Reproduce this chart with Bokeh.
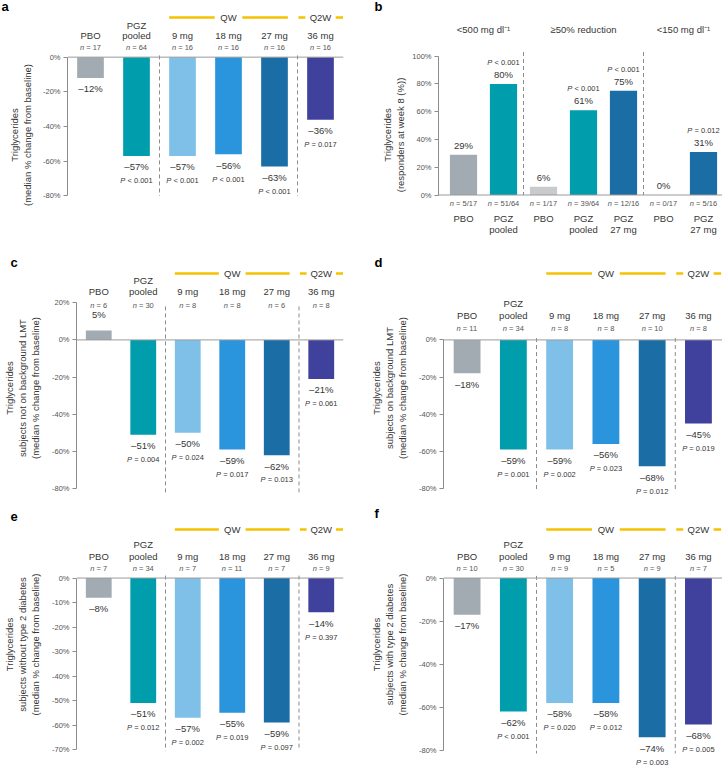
from bokeh.plotting import figure
from bokeh.models import Range1d, FixedTicker, Span, ColumnDataSource, CustomJSTickFormatter
from bokeh.layouts import column, row
from bokeh.core.properties import value
from bokeh.embed import file_html
from bokeh.resources import INLINE

FONT = "Liberation Sans"
DARK = "#363636"
GREY_TXT = "#555555"
YELLOW = "#F6C200"

# ---------------- data ----------------
dose_line1 = ["", "PGZ", "", "", "", ""]
dose_line2 = ["PBO", "pooled", "9 mg", "18 mg", "27 mg", "36 mg"]
dose_colors = ["#A2ABB2", "#009DAC", "#7FC0E9", "#2A95DC", "#1B6EA5", "#3F419D"]
qw_bars = [2, 4]          # first / last bar of the QW bracket
q2w_bars = [5, 5]
separators_after = [1, 4]

a_values = [-12, -57, -57, -56, -63, -36]
a_n = ["17", "64", "16", "16", "16", "16"]
a_p = ["", "P < 0.001", "P < 0.001", "P < 0.001", "P < 0.001", "P = 0.017"]
a_ticks = [0, -20, -40, -60, -80]

c_values = [5, -51, -50, -59, -62, -21]
c_n = ["6", "30", "8", "8", "6", "8"]
c_p = ["", "P = 0.004", "P = 0.024", "P = 0.017", "P = 0.013", "P = 0.061"]
c_ticks = [20, 0, -20, -40, -60, -80]

d_values = [-18, -59, -59, -56, -68, -45]
d_n = ["11", "34", "8", "8", "10", "8"]
d_p = ["", "P = 0.001", "P = 0.002", "P = 0.023", "P = 0.012", "P = 0.019"]
d_ticks = [0, -20, -40, -60, -80]

e_values = [-8, -51, -57, -55, -59, -14]
e_n = ["7", "34", "7", "11", "7", "9"]
e_p = ["", "P = 0.012", "P = 0.002", "P = 0.019", "P = 0.097", "P = 0.397"]
e_ticks = [0, -10, -20, -30, -40, -50, -60, -70]

f_values = [-17, -62, -58, -58, -74, -68]
f_n = ["10", "30", "9", "5", "9", "7"]
f_p = ["", "P < 0.001", "P = 0.020", "P = 0.012", "P = 0.003", "P = 0.005"]
f_ticks = [0, -20, -40, -60, -80]

b_groups = ["<500 mg dl\u207b\u00b9", "\u226550% reduction", "<150 mg dl\u207b\u00b9"]
b_group_bars = [[0, 1], [2, 3, 4], [5, 6]]
b_line1 = ["PBO", "PGZ", "PBO", "PGZ", "PGZ", "PBO", "PGZ"]
b_line2 = ["", "pooled", "", "pooled", "27 mg", "", "27 mg"]
b_values = [29, 80, 6, 61, 75, 0, 31]
b_n = ["5/17", "51/64", "1/17", "39/64", "12/16", "0/17", "5/16"]
b_p = ["", "P < 0.001", "", "P < 0.001", "P < 0.001", "", "P = 0.012"]
b_colors = ["#A2ABB2", "#009DAC", "#C8CACC", "#009DAC", "#1B6EA5", "#A2ABB2", "#1B6EA5"]
b_ticks = [0, 20, 40, 60, 80, 100]

TITLE_MED = "(median % change from baseline)"

# ---------------- helpers ----------------
CW = {" ": 0.278, "=": 0.584, "<": 0.584, "/": 0.278, ".": 0.278, "n": 0.556, "P": 0.667}
TITLE_H = 15.0   # approx. height of the 13px letter title before standoff


def tw(s, size):
    return sum(CW.get(ch, 0.556) for ch in s) * size


def txt(p, x, y, t, size, color=DARK, align="center", style="normal"):
    src = ColumnDataSource(dict(x=x, y=y, t=t))
    p.text(x="x", y="y", text="t", source=src, text_align=align,
           text_baseline="middle", text_font=value(FONT), text_font_size=value(f"{size}px"),
           text_color=color, text_font_style=style)


def italic_prefixed(p, x, y, prefix, rests, size, color):
    offs_pre, offs_rest = [], []
    for r in rests:
        total = tw(prefix + " " + r, size)
        split = -total / 2 + tw(prefix, size)
        offs_pre.append(split)
        offs_rest.append(split + tw(" ", size))
    src = ColumnDataSource(dict(x=x, y=y, pre=[prefix] * len(x), rest=rests, o1=offs_pre, o2=offs_rest))
    common = dict(source=src, text_baseline="middle", text_font=value(FONT),
                  text_font_size=value(f"{size}px"), text_color=color)
    p.text(x="x", y="y", text="pre", x_offset="o1", text_align="right", text_font_style="italic", **common)
    p.text(x="x", y="y", text="rest", x_offset="o2", text_align="left", **common)


def p_labels(p, xs, ys, plist, size=7.5):
    sel = [i for i, s in enumerate(plist) if s]
    italic_prefixed(p, [xs[i] for i in sel], [ys[i] for i in sel], "P",
                    [plist[i][2:] for i in sel], size, DARK)


def base_fig(W, H, mbl, mbr, zero_px, ppu, xr, ticks, title, title_standoff, letter, letter_x, S):
    # S = height of the band used by the panel letter above the frame
    y0 = -(H - zero_px) / ppu
    y1 = (zero_px - S) / ppu
    p = figure(width=W, height=H, x_range=Range1d(*xr), y_range=Range1d(y0, y1),
               x_axis_location=None, toolbar_location=None, output_backend="svg",
               title=letter, title_location="above",
               min_border_left=mbl, min_border_right=mbr, min_border_top=0, min_border_bottom=0,
               outline_line_color=None, background_fill_color="white", border_fill_color="white")
    p.title.align = "left"
    p.title.offset = letter_x - mbl
    p.title.text_font = FONT
    p.title.text_font_size = "13px"
    p.title.text_font_style = "bold"
    p.title.text_color = "black"
    p.title.vertical_align = "top"
    p.title.standoff = S - TITLE_H
    p.grid.visible = False
    ax = p.yaxis[0]
    ax.ticker = FixedTicker(ticks=ticks)
    ax.bounds = (min(ticks), max(ticks))
    ax.formatter = CustomJSTickFormatter(code="return tick + '%'")
    ax.major_tick_out = 4
    ax.major_tick_in = 0
    ax.minor_tick_out = 0
    ax.minor_tick_in = 0
    ax.axis_line_color = "#8c8c8c"
    ax.major_tick_line_color = "#8c8c8c"
    ax.major_label_text_font = FONT
    ax.major_label_text_font_size = "7.5px"
    ax.major_label_text_color = GREY_TXT
    ax.major_label_standoff = 3
    ax.axis_label = title
    ax.axis_label_text_font = FONT
    ax.axis_label_text_font_size = "9.5px"
    ax.axis_label_text_font_style = "normal"
    ax.axis_label_text_color = DARK
    ax.axis_label_standoff = title_standoff
    p.add_layout(Span(location=0, dimension="width", line_color="#9a9a9a", line_width=1))
    return p


def dose_panel(letter, values, ns, ps, ticks, title, title_standoff, W, H, mbl, mbr, xr, zero_px, ppu, hdr,
               letter_x, S, sep_top, sep_bot):
    p = base_fig(W, H, mbl, mbr, zero_px, ppu, xr, ticks, title, title_standoff, letter, letter_x, S)
    xs = list(range(len(values)))
    bw = 0.58
    p.vbar(x=xs, top=values, bottom=0, width=bw, fill_color=dose_colors, line_color=None)
    sx = [i + 0.5 for i in separators_after]
    p.segment(x0=sx, x1=sx, y0=[sep_top] * len(sx), y1=[sep_bot] * len(sx),
              line_color="#8c8c8c", line_width=1, line_dash="4 3")
    qw_px, l1_px, l2_px, n_px = hdr
    u = lambda px: px / ppu
    txt(p, xs, [u(l1_px)] * 6, dose_line1, 9.5)
    txt(p, xs, [u(l2_px)] * 6, dose_line2, 9.5)
    italic_prefixed(p, xs, [u(n_px)] * 6, "n", ["= " + n for n in ns], 7.5, GREY_TXT)
    # QW bracket
    qa, qb = qw_bars[0] - bw / 2, qw_bars[1] + bw / 2
    qc = (qw_bars[0] + qw_bars[1]) / 2
    gap = 0.3
    yq = u(qw_px)
    p.segment(x0=[qa, qc + gap], x1=[qc - gap, qb], y0=[yq, yq], y1=[yq, yq], line_color=YELLOW, line_width=2.5)
    txt(p, [qc], [yq], ["QW"], 9.5)
    # Q2W
    ra, rb = q2w_bars[0] - 0.5, q2w_bars[1] + 0.5
    rc = (ra + rb) / 2
    p.segment(x0=[ra + 0.02, rb - 0.17], x1=[ra + 0.17, rb - 0.01], y0=[yq, yq], y1=[yq, yq],
              line_color=YELLOW, line_width=2.5)
    txt(p, [rc], [yq], ["Q2W"], 9.5)
    # value labels
    vy = [v + u(16) if v >= 0 else v - u(11) for v in values]
    vt = [f"{v}%" if v >= 0 else f"\u2013{abs(v)}%" for v in values]
    txt(p, xs, vy, vt, 9.5)
    py = [v - u(25) for v in values]
    p_labels(p, xs, py, ps)
    return p


# ---------------- geometry ----------------
LW, RW = 360, 362
H1, H2, H3 = 255, 250, 261
XL = (-0.5, 5.5)
XR = (-0.51, 5.52)
T2 = "Triglycerides\n"

pa = dose_panel("a", a_values, a_n, a_p, a_ticks, T2 + TITLE_MED, 7,
                LW, H1, 67, 17, XL, 55, 1.75, (40, 32, 22, 10), 1, 12, 1, -80)
pc = dose_panel("c", c_values, c_n, c_p, c_ticks,
                T2 + "subjects not on background LMT\n" + TITLE_MED, 8,
                LW, H2, 67, 17, XL, 83, 1.875, (67, 60, 49, 35), 1, 13, 18, -82)
pd_ = dose_panel("d", d_values, d_n, d_p, d_ticks,
                 T2 + "subjects on background LMT\n" + TITLE_MED, 8,
                 RW, H2, 83, 0, XR, 83, 1.875, (67, 37, 25, 12), 14, 13, 1, -81)
pe = dose_panel("e", e_values, e_n, e_p, e_ticks,
                T2 + "subjects without type 2 diabetes\n" + TITLE_MED, 8,
                LW, H3, 67, 17, XL, 71, 2.47, (49, 34, 22, 10), 1, 15, 1, -70.5)
pf = dose_panel("f", f_values, f_n, f_p, f_ticks,
                T2 + "subjects with type 2 diabetes\n" + TITLE_MED, 8,
                RW, H3, 83, 0, XR, 71, 2.17, (49, 34, 22, 10), 14, 15, 1, -81.5)

# ---------------- panel b ----------------
ppu_b = 1.4
pb = base_fig(RW, H1, 78, 0, 194, ppu_b, (-0.625, 6.475), b_ticks,
              T2 + "(responders at week 8 (%))", 3, "b", 14, 12)
ub = lambda px: px / ppu_b
bx = list(range(len(b_values)))
pb.vbar(x=bx, top=b_values, bottom=0, width=0.68, fill_color=b_colors, line_color=None)
gsep = [g[-1] + 0.5 for g in b_group_bars[:-1]]
pb.segment(x0=gsep, x1=gsep, y0=[103] * len(gsep), y1=[0] * len(gsep),
           line_color="#8c8c8c", line_width=1, line_dash="4 3")
gx = [sum(g) / len(g) for g in b_group_bars]
txt(pb, gx, [ub(167)] * len(gx), b_groups, 9.5)
txt(pb, bx, [v + ub(9.5) for v in b_values], [f"{v}%" for v in b_values], 9.5)
p_labels(pb, bx, [v + ub(21.5) for v in b_values], b_p)
italic_prefixed(pb, bx, [-ub(9)] * len(bx), "n", ["= " + n for n in b_n], 7.5, GREY_TXT)
txt(pb, bx, [-ub(24)] * len(bx), b_line1, 9.5)
txt(pb, bx, [-ub(35)] * len(bx), b_line2, 9.5)

layout = column(row(pa, pb), row(pc, pd_), row(pe, pf))
open("out.html", "w").write(file_html(layout, INLINE))
